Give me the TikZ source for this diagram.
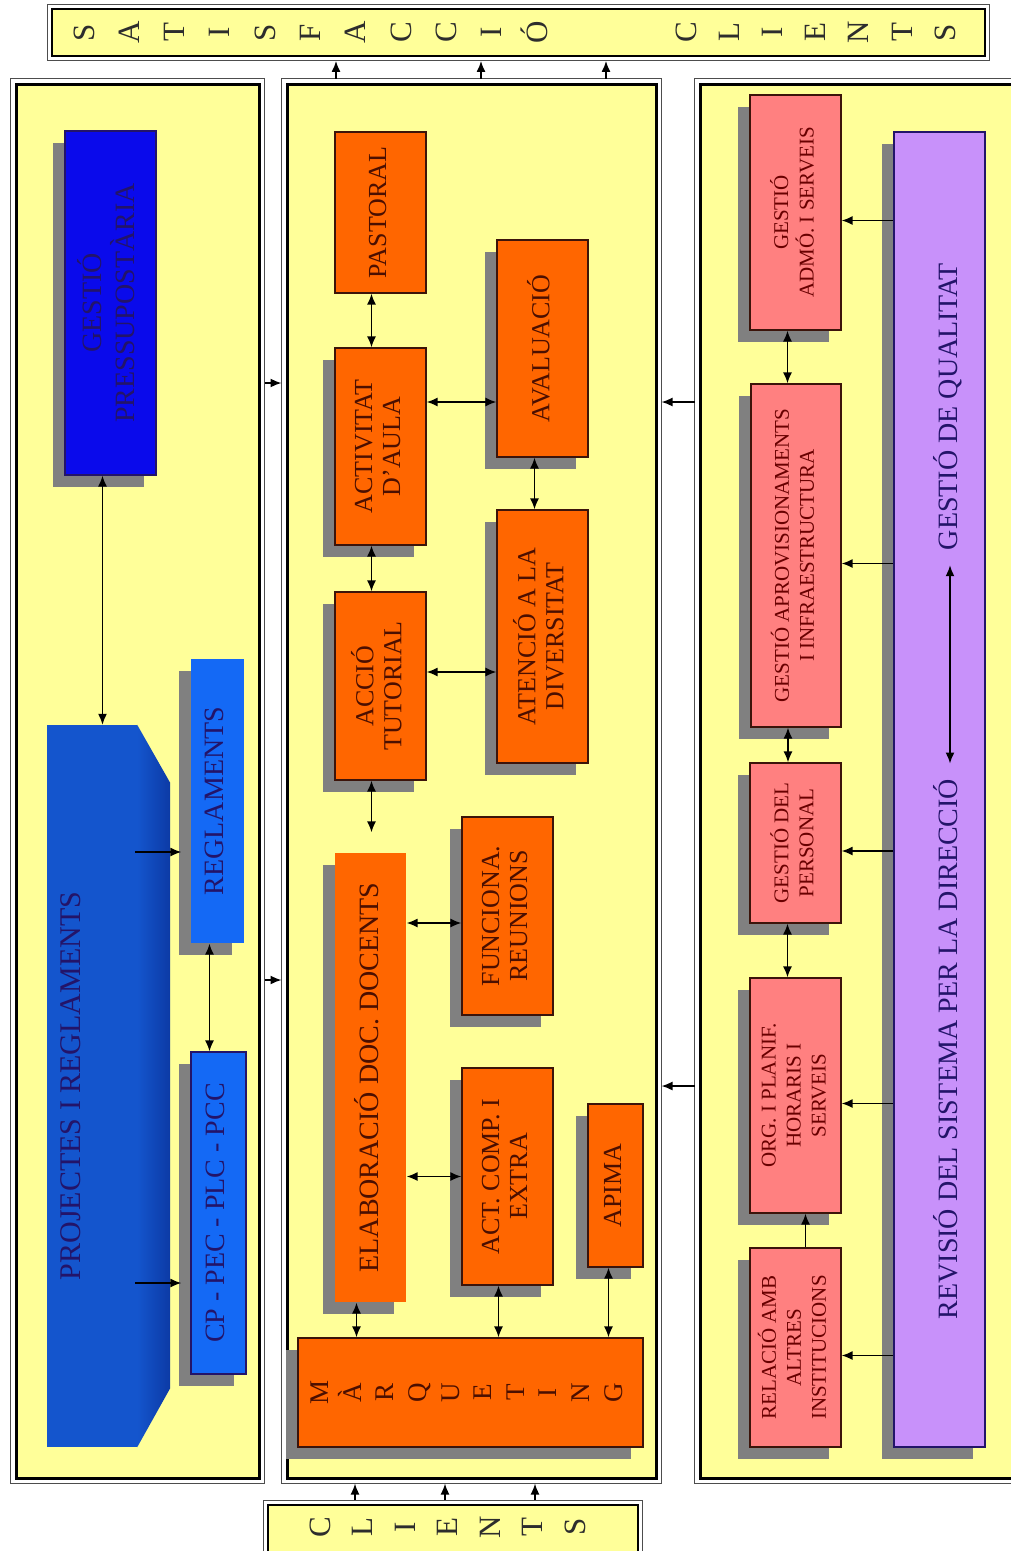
\documentclass[tikz,border=0pt]{standalone}
\usepackage{fontspec}
\setmainfont{Liberation Serif}
\usepackage{graphicx}
\usetikzlibrary{arrows.meta,calc,shadows}
\definecolor{groc}{RGB}{255,255,153}
\definecolor{taronja}{RGB}{255,102,0}
\definecolor{rosa}{RGB}{255,128,128}
\definecolor{lila}{RGB}{200,145,250}
\definecolor{blaufosc}{RGB}{10,10,235}
\definecolor{blaumig}{RGB}{20,85,205}
\definecolor{blaucl}{RGB}{20,105,245}
\definecolor{blauvora}{RGB}{12,58,165}
\definecolor{ombra}{RGB}{128,128,128}
\definecolor{marro}{RGB}{75,15,0}
\definecolor{granat}{RGB}{105,0,0}
\definecolor{navy}{RGB}{35,20,105}
\definecolor{vora}{RGB}{60,20,10}
\definecolor{lletrac}{RGB}{45,45,45}
\newcommand{\vt}[1]{\rotatebox{90}{\begin{tabular}{@{}c@{}}#1\end{tabular}}}
\newcommand{\lt}[1]{\rotatebox{90}{\vphantom{Óp}#1}}
\tikzset{
  marc/.style={draw=black, line width=3pt, fill=groc, inner sep=0pt},
  mida/.style 2 args={minimum width=#1, minimum height=#2},
  omb/.style={drop shadow={shadow xshift=-12pt, shadow yshift=-12pt, fill=ombra, opacity=1}},
  caixa/.style={rectangle, draw=vora, line width=1.2pt, inner sep=0pt, align=center},
  ctar0/.style={caixa, fill=taronja, text=marro, font=\fontsize{26}{28}\selectfont},
  ctar/.style={ctar0, omb},
  crosa/.style={caixa, omb, fill=rosa, text=granat, font=\fontsize{21}{25}\selectfont},
  clila/.style={caixa, omb, fill=lila, draw=navy},
  cblau/.style={caixa, omb, draw=navy, text=navy, font=\fontsize{28}{30}\selectfont},
  tlila/.style={text=navy, inner sep=15pt, font=\fontsize{28}{30}\selectfont},
  tblau/.style={text=navy, inner sep=0pt, font=\fontsize{30}{32}\selectfont},
  lletra/.style={text=lletrac, inner sep=0pt, font=\fontsize{31}{33}\selectfont},
  fl/.style={-{Latex[length=11pt,width=9pt]}, line width=1.6pt},
  fl2/.style={{Latex[length=11pt,width=9pt]}-{Latex[length=11pt,width=9pt]}, line width=1.6pt},
}

\begin{document}
\begin{tikzpicture}[x=1pt,y=-1pt]
  \useasboundingbox (0,0) rectangle (1010,1551);
  \fill[white] (0,0) rectangle (1010,1551);
  % marcs
  \node[marc, line width=1.8pt, mida={933pt}{47pt}] (sat) at (518.5,32.5) {};
  \node[marc, mida={243pt}{1394pt}] (lp) at (137.5,781) {};
  \node[marc, mida={369pt}{1394pt}] (mp) at (471.5,781) {};
  \node[marc, mida={330pt}{1394pt}] (rp) at (865,781) {};
  \node[marc, line width=1.8pt, mida={370pt}{80pt}] (cli) at (453,1545) {};
  \foreach \n in {sat,lp,mp,rp,cli}
    \draw[ombra!60!black, line width=0.9pt] ([shift={(-4,-4)}]\n.north west) rectangle ([shift={(4,4)}]\n.south east);
  \foreach \l [count=\i from 0] in {S,A,T,I,S,F,A,C,C,I,Ó}
    \node[lletra] (sa\i) at (84+45.3*\i,32.5) {\lt{\l}};
  \foreach \l [count=\i from 0] in {C,L,I,E,N,T,S}
    \node[lletra] (sc\i) at (686+43.2*\i,32.5) {\lt{\l}};
  \foreach \l [count=\i from 0] in {C,L,I,E,N,T,S}
    \node[lletra] (cl\i) at (320+42.5*\i,1527) {\lt{\l}};

  % esquerra
  \node[cblau, fill=blaufosc, mida={91pt}{344pt}] (pres) at (110.5,303) {\vt{GESTIÓ\\PRESSUPOSTÀRIA}};
  \node[fill=blaumig, inner sep=0pt, mida={90pt}{722pt}] (proj) at (92,1086) {};
  \shade[left color=blaumig, right color=blauvora] (proj.north east) -- ++(33,58) -- ($(proj.south east)+(33,-59)$) -- (proj.south east) -- cycle;
  \node[tblau] (projt) at ([xshift=-18pt]proj.center) {\vt{PROJECTES I REGLAMENTS}};
  \node[cblau, draw=none, fill=blaucl, mida={53pt}{284pt}] (regl) at (217.5,801) {\vt{REGLAMENTS}};
  \node[cblau, fill=blaucl, mida={55pt}{322pt}] (cp) at (218.5,1213) {\vt{CP - PEC - PLC - PCC}};
  \coordinate (p1) at (135,852);
  \coordinate (p2) at (135,1283);
  \draw[fl2] ([xshift=-8pt]pres.south) -- ([xshift=-8pt]pres.south |- proj.north);
  \draw[fl, shorten >=9pt] (p1) -- (p1 -| regl.west);
  \draw[fl, shorten >=9pt] (p2) -- (p2 -| cp.west);
  \draw[fl2] ([xshift=-8pt]regl.south) -- ([xshift=-8pt]regl.south |- cp.north);

  % centre
  \node[ctar0, mida={91pt}{161pt}] (past) at (380.5,212.5) {\vt{PASTORAL}};
  \node[ctar, mida={91pt}{197pt}] (activ) at (380.5,446.5) {\vt{ACTIVITAT\\D'AULA}};
  \node[ctar, mida={91pt}{217pt}] (aval) at (542.5,348.5) {\vt{AVALUACIÓ}};
  \node[ctar, mida={91pt}{253pt}] (aten) at (542.5,636.5) {\vt{ATENCIÓ A LA\\DIVERSITAT}};
  \node[ctar, mida={91pt}{188pt}] (accio) at (380.5,686) {\vt{ACCIÓ\\TUTORIAL}};
  \node[ctar, draw=none, font=\fontsize{28}{30}\selectfont, mida={71pt}{449pt}] (elab) at (370.5,1077.5) {\vt{ELABORACIÓ DOC. DOCENTS}};
  \node[ctar, mida={91pt}{198pt}] (func) at (507.5,916) {\vt{FUNCIONA.\\REUNIONS}};
  \node[ctar, mida={91pt}{217pt}] (actc) at (507.5,1176.5) {\vt{ACT. COMP. I\\EXTRA}};
  \node[ctar, mida={55pt}{163pt}] (apima) at (615.5,1185.5) {\vt{APIMA}};
  \node[ctar, mida={345pt}{109pt}] (marq) at (470.5,1392.5) {};
  \foreach \l [count=\i from 0] in {M,À,R,Q,U,E,T,I,N,G}
    \node[lletra, text=marro, font=\fontsize{27}{29}\selectfont] (mq\i) at (320+32.6*\i,1392.5) {\lt{\l}};
  \coordinate (h1) at (0,402);
  \coordinate (h2) at (0,672);
  \draw[fl2] ([xshift=-9pt]past.south) -- ([xshift=-9pt]past.south |- activ.north);
  \draw[fl2] ([xshift=-9pt]activ.south) -- ([xshift=-9pt]activ.south |- accio.north);
  \draw[fl2, shorten >=20pt] ([xshift=-9pt]accio.south) -- ([xshift=-9pt]accio.south |- elab.north);
  \draw[fl2] ([xshift=-8pt]aval.south) -- ([xshift=-8pt]aval.south |- aten.north);
  \draw[fl2] (activ.east |- h1) -- (aval.west |- h1);
  \draw[fl2] (accio.east |- h2) -- (aten.west |- h2);
  \draw[fl2] ([yshift=-7pt]func.west -| elab.east) -- ([yshift=-7pt]func.west);
  \draw[fl2] (actc.west -| elab.east) -- (actc.west);
  \draw[fl2] ([xshift=-14pt]elab.south) -- ([xshift=-14pt]elab.south |- marq.north);
  \draw[fl2] ([xshift=-9pt]actc.south) -- ([xshift=-9pt]actc.south |- marq.north);
  \draw[fl2] ([xshift=-7pt]apima.south) -- ([xshift=-7pt]apima.south |- marq.north);

  % dreta
  \node[crosa, mida={91pt}{235pt}] (admo) at (795.5,212.5) {\vt{GESTIÓ\\ADMÓ. I SERVEIS}};
  \node[crosa, mida={90pt}{343pt}] (aprov) at (796,555.5) {\vt{GESTIÓ APROVISIONAMENTS\\I INFRAESTRUCTURA}};
  \node[crosa, mida={91pt}{160pt}] (pers) at (795.5,843) {\vt{GESTIÓ DEL\\PERSONAL}};
  \node[crosa, mida={91pt}{235pt}] (org) at (795.5,1095.5) {\vt{ORG. I PLANIF.\\HORARIS I\\SERVEIS}};
  \node[crosa, mida={91pt}{199pt}] (rel) at (795.5,1347.5) {\vt{RELACIÓ AMB\\ALTRES\\INSTITUCIONS}};
  \node[clila, mida={91pt}{1315pt}] (rev) at (939.5,789.5) {};
  \node[tlila] (dir) at (950,1049) {\vt{REVISIÓ DEL SISTEMA PER LA DIRECCIÓ}};
  \node[tlila] (qual) at (950,406.5) {\vt{GESTIÓ DE QUALITAT}};
  \draw[fl2] (dir.north) -- (qual.south);
  \draw[fl2] ([xshift=-8pt]admo.south) -- ([xshift=-8pt]admo.south |- aprov.north);
  \draw[fl2] ([xshift=-8pt]aprov.south) -- ([xshift=-8pt]aprov.south |- pers.north);
  \draw[fl2] ([xshift=-8pt]pers.south) -- ([xshift=-8pt]pers.south |- org.north);
  \draw[fl] ([xshift=10pt]rel.north) -- ([xshift=10pt]rel.north |- org.south);
  \foreach \n in {admo,aprov,pers,org,rel}{
    \coordinate (e\n) at ([yshift=-8pt]\n.east);
    \draw[fl] (e\n -| rev.west) -- (e\n);
  }

  % entre marcs
  \foreach \y in {383,980}
    \draw[fl, shorten <=4pt, shorten >=4pt] (lp.east |- 0,\y) -- (mp.west |- 0,\y);
  \foreach \y in {402,1086}
    \draw[fl, shorten <=4pt, shorten >=4pt] (rp.west |- 0,\y) -- (mp.east |- 0,\y);
  \foreach \x in {336,481,606}
    \draw[fl, shorten <=4pt, shorten >=4pt] (mp.north -| \x,0) -- (sat.south -| \x,0);
  \foreach \x in {355,445,535}
    \draw[fl, shorten <=4pt, shorten >=4pt] (cli.north -| \x,0) -- (mp.south -| \x,0);
\end{tikzpicture}
\end{document}
